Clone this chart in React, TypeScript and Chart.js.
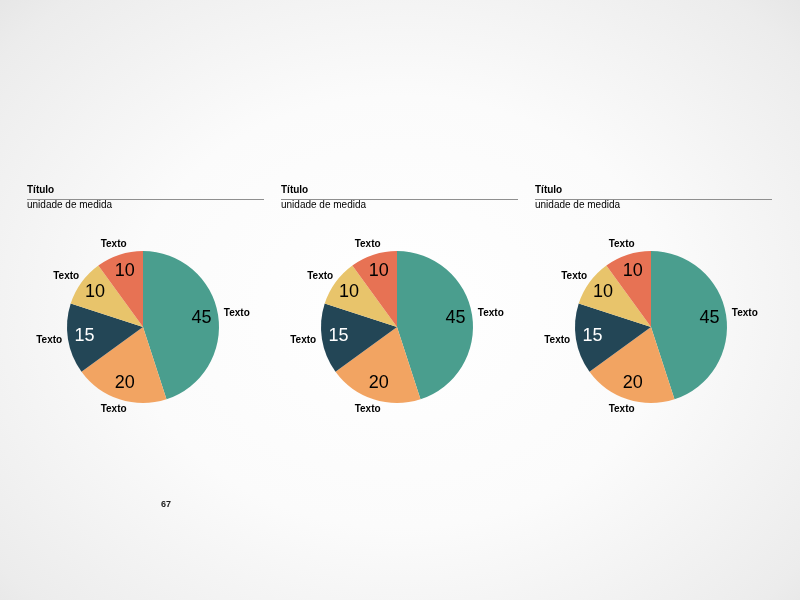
import React, { useEffect, useRef } from "react";
import { Chart, registerables } from "chart.js";

Chart.register(...registerables);

const categories = ["Texto", "Texto", "Texto", "Texto", "Texto"];
const values = [45, 20, 15, 10, 10];
const panelTitles = ["Título", "Título", "Título"];
const panelUnits = ["unidade de medida", "unidade de medida", "unidade de medida"];
const pageNumber = "67";

const sliceColors = ["#4a9e8e", "#f2a462", "#234656", "#e8c46b", "#e77254"];
const valueLabelColors = ["#000000", "#000000", "#ffffff", "#000000", "#000000"];

const FONT = "'Liberation Sans', Arial, sans-serif";

const labelPlugin = {
  id: "pieLabels",
  afterDatasetsDraw(chart: any) {
    const ctx = chart.ctx;
    const meta = chart.getDatasetMeta(0);
    meta.data.forEach((arc: any, i: number) => {
      const { x, y, startAngle, endAngle, outerRadius } = arc.getProps(
        ["x", "y", "startAngle", "endAngle", "outerRadius"],
        true
      );
      const mid = (startAngle + endAngle) / 2;
      const cx = Math.cos(mid);
      const cy = Math.sin(mid);
      ctx.save();
      ctx.font = `18px ${FONT}`;
      ctx.fillStyle = valueLabelColors[i];
      ctx.textAlign = "center";
      ctx.textBaseline = "middle";
      const ir = outerRadius * 0.78;
      ctx.fillText(String(chart.data.datasets[0].data[i]), x + cx * ir, y + cy * ir);
      ctx.font = `bold 10px ${FONT}`;
      ctx.fillStyle = "#000000";
      const text = chart.data.labels[i];
      const w = ctx.measureText(text).width;
      const h = 10;
      const orr = outerRadius + 6;
      const px = x + cx * orr + cx * (w / 2);
      const py = y + cy * orr + cy * (h / 2);
      ctx.fillText(text, px, py);
      ctx.restore();
    });
  },
};

function PiePanel({ left, title, unit }: { left: number; title: string; unit: string }) {
  const ref = useRef<HTMLCanvasElement | null>(null);
  useEffect(() => {
    if (!ref.current) return;
    const chart = new Chart(ref.current, {
      type: "pie",
      data: {
        labels: categories,
        datasets: [
          {
            data: values,
            backgroundColor: sliceColors,
            borderWidth: 0,
          },
        ],
      },
      options: {
        animation: false,
        responsive: false,
        maintainAspectRatio: false,
        layout: { padding: { left: 44, right: 44, top: 24, bottom: 24 } },
        plugins: {
          legend: { display: false },
          tooltip: { enabled: false },
          title: { display: false },
        },
      },
      plugins: [labelPlugin],
    });
    return () => chart.destroy();
  }, []);

  return (
    <>
      <div
        style={{
          position: "absolute",
          left: left,
          top: 183,
          font: `bold 10px ${FONT}`,
          color: "#000",
          lineHeight: "13px",
        }}
      >
        {title}
      </div>
      <div
        style={{
          position: "absolute",
          left: left,
          top: 199,
          width: 237,
          height: 0,
          borderTop: "1.5px solid #8f8f8f",
        }}
      />
      <div
        style={{
          position: "absolute",
          left: left,
          top: 198,
          font: `10px ${FONT}`,
          color: "#000",
          lineHeight: "13px",
        }}
      >
        {unit}
      </div>
      <canvas
        ref={ref}
        width={240}
        height={200}
        style={{ position: "absolute", left: left + 116 - 120, top: 227, width: 240, height: 200 }}
      />
    </>
  );
}

export default function App() {
  const lefts = [27, 281, 535];
  return (
    <div
      style={{
        position: "fixed",
        left: 0,
        top: 0,
        width: 800,
        height: 600,
        overflow: "hidden",
        background:
          "radial-gradient(ellipse 75% 80% at 50% 52%, #ffffff 0%, #fbfbfb 45%, #ececec 85%, #e2e2e2 100%)",
      }}
    >
      {panelTitles.map((t, i) => (
        <PiePanel key={i} left={lefts[i]} title={t} unit={panelUnits[i]} />
      ))}
      <div
        style={{
          position: "absolute",
          left: 161,
          top: 498,
          font: `bold 9px ${FONT}`,
          color: "#222",
          lineHeight: "12px",
        }}
      >
        {pageNumber}
      </div>
    </div>
  );
}
